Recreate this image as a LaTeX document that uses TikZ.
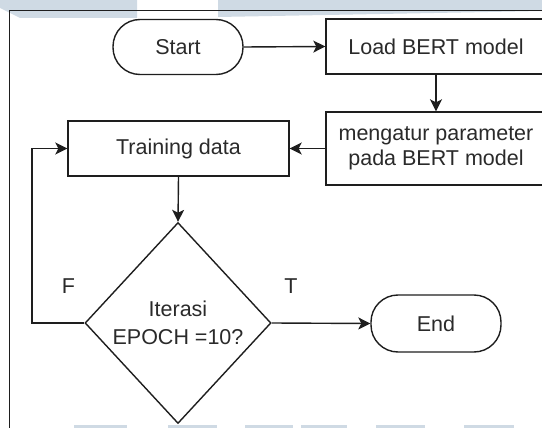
\documentclass[tikz,border=0pt]{standalone}
\usepackage{fontspec}
\setmainfont{Liberation Sans}
\usetikzlibrary{shapes.geometric,arrows.meta}
\definecolor{band}{HTML}{CFDAE4}
\definecolor{ink}{HTML}{1E1E1E}
\definecolor{txt}{HTML}{2A2A2A}
\tikzset{
  base/.style={draw=ink, line width=1.4pt, text=txt, inner sep=2pt,
    font=\fontsize{21.5}{25}\selectfont, align=center},
  procbox/.style={base, rectangle},
  termbox/.style={base, rectangle, rounded corners=27pt, minimum width=130pt},
  decbox/.style={base, diamond, minimum width=186pt, minimum height=201pt, inner sep=0pt},
  conn/.style={draw=ink, line width=1.4pt, -{Stealth[length=12pt,width=12pt,inset=3pt]}},
  lbl/.style={text=txt, font=\fontsize{21.5}{25}\selectfont, inner sep=0pt}
}
\begin{document}
\begin{tikzpicture}[x=1pt,y=-1pt]
\useasboundingbox (0,0) rectangle (542,428);
% watermark bands
\fill[band] (0,0) -- (137,0) -- (137,18) -- (20,18) -- (0,8) -- cycle;
\fill[band] (218,0) -- (542,0) -- (542,11) -- (218,17) -- cycle;
\foreach \a/\b in {74/127,168/217,245/293,301/347,376/425,464/514}
  \fill[band] (\a,425) rectangle (\b,428);
% frame
\draw[ink, line width=1.5pt] (9.5,428) -- (9.5,10.5) -- (542,10.5);
% nodes
\node[termbox, minimum height=55pt] (start) at (178,47) {Start};
\node[procbox, minimum width=220pt, minimum height=55pt] (load) at (436,46.5) {Load BERT model};
\node[procbox, minimum width=220pt, minimum height=73pt] (param) at (436,148.5) {mengatur parameter\\pada BERT model};
\node[procbox, minimum width=221pt, minimum height=55pt] (train) at (178.5,148.5) {Training data};
\node[decbox, font=\fontsize{21.5}{28}\selectfont] (dec) at (178,323) {Iterasi\\EPOCH =10?};
\node[termbox, minimum height=57pt] (end) at (436,323.5) {End};
\node[lbl] (f) at (68.5,286) {F};
\node[lbl] (t) at (291,286) {T};
\coordinate (loop) at (32,323);
% connectors
\draw[conn] (start.east) -- (load.west);
\draw[conn] (load.south) -- (param.north);
\draw[conn] (param.west) -- (train.east);
\draw[conn] (train.south) -- (dec.north);
\draw[conn] (dec.east) -- (end.west);
\draw[conn] (dec.west) -- (loop) |- (train.west);
\end{tikzpicture}
\end{document}
